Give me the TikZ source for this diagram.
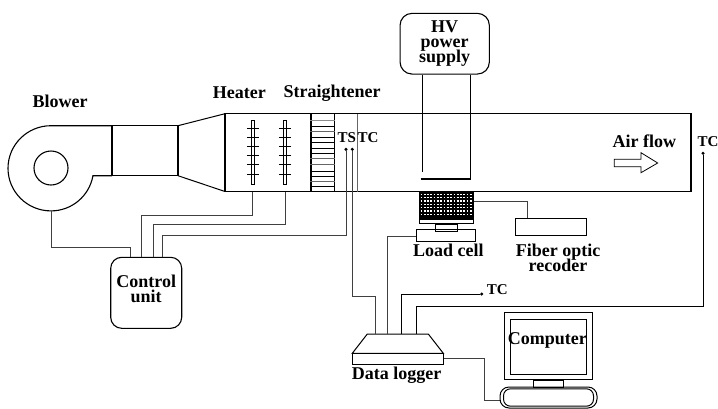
\documentclass[tikz,border=0pt]{standalone}
\usepackage{fontspec}
\setmainfont{Liberation Serif}
\usepackage{tikz}
\usetikzlibrary{arrows, positioning, fit}
\tikzset{>=stealth}
\tikzset{
  part/.style={draw, line width=1pt},
  wire/.style={draw, line width=.8pt, black!75},
  lab/.style={font=\bfseries\fontsize{18}{15}\selectfont, inner sep=0pt, align=center},
  baselab/.style={lab, anchor=base},
  tclab/.style={font=\bfseries\fontsize{15}{15}\selectfont, inner sep=0pt},
  probe/.style={circle, fill=black, inner sep=0pt, minimum size=3.4pt},
}

\begin{document}
\begin{tikzpicture}[x=1pt, y=-1pt, line join=miter]
        \useasboundingbox (0,0) rectangle (718,408);
        % blower and duct
        \draw[part, line width=1.1pt](112,125.7)--(51,125.7) arc (-90:-270:43 and 42.6) arc (90:10.4:42.6)--(92.9,175.7)--(112,175.7);
        \node[draw, line width=1.1pt, circle, minimum size=34pt, inner sep=0pt] (fan) at (51,168){};
        \node[draw, line width=1.1pt, minimum width=66pt, minimum height=50pt, inner sep=0pt] (neck) at (145,150.7){};
        \draw[part](178,125.7)--(225,113.7);
        \draw[part](178,175.7)--(225,191.5);
        \node[draw, line width=1.1pt, minimum width=466pt, minimum height=77.8pt, inner sep=0pt] (duct) at (458,152.6){};
        % heater elements
        \foreach \x/\name in {253/hone,285/htwo}
        {
            \node[draw, line width=.7pt, minimum width=2.6pt, minimum height=63.5pt, inner sep=0pt] (\name) at (\x,152.4){};
            \foreach \y in {128.3,137.3,146,155.3,164.7,174.3}
            {
                \draw[line width=.7pt](\x-6.2,\y)--(\x+6.2,\y);
            }
        }
        % straightener
        \node[draw, line width=1.2pt, minimum width=23.3pt, minimum height=77.8pt, inner sep=0pt] (flow) at (322.7,152.6){};
        \foreach \y/\c in {120/45,126/100,131.5/60,137/100,142.5/100,148/100,153/100,158/60,164.5/60,171/100,176/100,181/60,186/100}
        {
            \draw[line width=.9pt, black!\c](flow.west |- 0,\y)--(flow.east |- 0,\y);
        }
        \draw[line width=.8pt, black!60](357.7,114)--(357.7,191.5);
        % high voltage electrode
        \node[draw, line width=1.1pt, rounded corners=12pt, minimum width=89.3pt, minimum height=60.7pt, inner sep=0pt] (hv) at (444.7,43.7){};
        \node[baselab] (hvlab) at (444.7,32){HV};
        \node[baselab] (powerlab) at (444.7,47){power};
        \node[baselab] (supplylab) at (444.7,62){supply};
        \coordinate (hvl) at (422.3,171.7);
        \coordinate (hvr) at (470.7,179);
        \coordinate (plate) at (420.7,179);
        \draw[wire, black](hvl |- hv.south)--(hvl);
        \draw[wire, black](hvr |- hv.south)--(hvr);
        \draw[line width=1.2pt](plate)--(hvr);
        % collector and load cell
        \node[draw, line width=1pt, fill=black, minimum width=54pt, minimum height=26.6pt, inner sep=0pt] (mesh) at (446.3,205){};
        \foreach \y in {194.5,197.8,201.1,204.4,207.7,211,214.3}
        {
            \draw[white, line width=1.3pt, dash pattern=on 1.7pt off 1.6pt](420.5,\y)--(472.5,\y);
        }
        \node[draw, line width=1pt, minimum width=54pt, minimum height=4pt, inner sep=0pt, below=0pt of mesh] (pan) {};
        \node[draw, line width=1pt, minimum width=22pt, minimum height=6.7pt, inner sep=0pt, below=0pt of pan] (post) {};
        \node[draw, line width=1pt, minimum width=59pt, minimum height=12pt, inner sep=0pt] (load) at (446.2,235){};
        \node[draw, line width=1pt, minimum width=70.6pt, minimum height=17.3pt, inner sep=0pt] (fiber) at (551,227.3){};
        \node[lab] (loadlab) at (448.3,250){Load cell};
        \node[baselab] (fiberlab) at (558,256){Fiber optic};
        \node[baselab] (reclab) at (558,271){recoder};
        \draw[wire](mesh.east |- 0,201)-|(fiber.north -| 527.7,0);
        % control unit
        \node[draw, line width=1.1pt, rounded corners=11pt, minimum width=71pt, minimum height=71pt, inner sep=0pt] (ctrl) at (146.2,292.8){};
        \node[baselab] (ctrllab) at (146.2,287.5){Control};
        \node[baselab] (unitlab) at (146.2,302.5){unit};
        \coordinate (tsa) at (346,149.3);
        \coordinate (tsb) at (352.3,149.3);
        \node[probe] (tsadot) at (tsa){};
        \node[probe] (tsbdot) at (tsb){};
        \draw[wire](fan.south |- 0,210.7)--(51,247.3)-|(130,257.3);
        \draw[wire](141.7,257.3)|-(252,215.7)--(252,191.5);
        \draw[wire](153.7,257.3)|-(285,224.7)--(285,191.5);
        \draw[wire](162.3,257.3)|-(346,235.7)--(tsadot);
        % data logger
        \draw[part](367.3,334)--(428.3,334)--(443.3,353.3)--(352.3,353.3)--cycle;
        \node[draw, line width=1pt, minimum width=91pt, minimum height=11pt, inner sep=0pt] (logger) at (397.8,358.8){};
        \node[lab] (logglab) at (396.7,375){Data logger};
        \coordinate (tctop) at (703,153.3);
        \node[probe] (tcdot) at (tctop){};
        \node[probe] (tcfree) at (481.7,294){};
        \draw[wire](tsbdot)--(352.3,296.7)-|(375.7,334);
        \draw[wire](load.west |- 0,236)-|(387.3,334);
        \draw[wire, black](401.7,334)|-(tcfree);
        \draw[wire, black](416.7,334)|-(703,306.7)--(tcdot);
        \draw[wire](logger.east |- 0,358.3)-|(484,400)--(500.2,400);
        % computer
        \node[draw, line width=1pt, minimum width=88pt, minimum height=67.3pt, inner sep=0pt] (screen) at (548.3,346.3){};
        \node[draw, line width=1pt, minimum width=76pt, minimum height=55pt, inner sep=0pt] (inner) at (548.7,346.5){};
        \node[draw, line width=1pt, minimum width=29.7pt, minimum height=6.7pt, inner sep=0pt, below=0pt of screen] (stand) {};
        \node[draw, line width=1pt, rounded corners=9pt, minimum width=97pt, minimum height=21pt, inner sep=0pt] (keys) at (548.5,397.5){};
        \node[draw, line width=1pt, rounded corners=7pt, minimum width=90pt, minimum height=17.4pt, inner sep=0pt] (keysin) at (keys){};
        \node[lab] (complab) at (547.3,340){Computer};
        % labels
        \node[lab] (blowlab) at (60,101){Blower};
        \node[lab] (heatlab) at (239.3,92.7){Heater};
        \node[lab] (straightlab) at (332,93.3){Straightener};
        \node[tclab] (tslab) at (346.8,137.5){TS};
        \node[tclab] (tcinlab) at (368,137.5){TC};
        \node[tclab] (tcrlab) at (708,141.7){TC};
        \node[tclab] (tcflab) at (497.3,290){TC};
        \node[lab] (airlab) at (644.3,141.7){Air flow};
        \draw[line width=.8pt](614.3,159.3)--(641,159.3)--(641,152.7)--(657.7,163)--(641,172.7)--(641,166.7)--(614.3,166.7)--cycle;
    \end{tikzpicture}
\end{document}
